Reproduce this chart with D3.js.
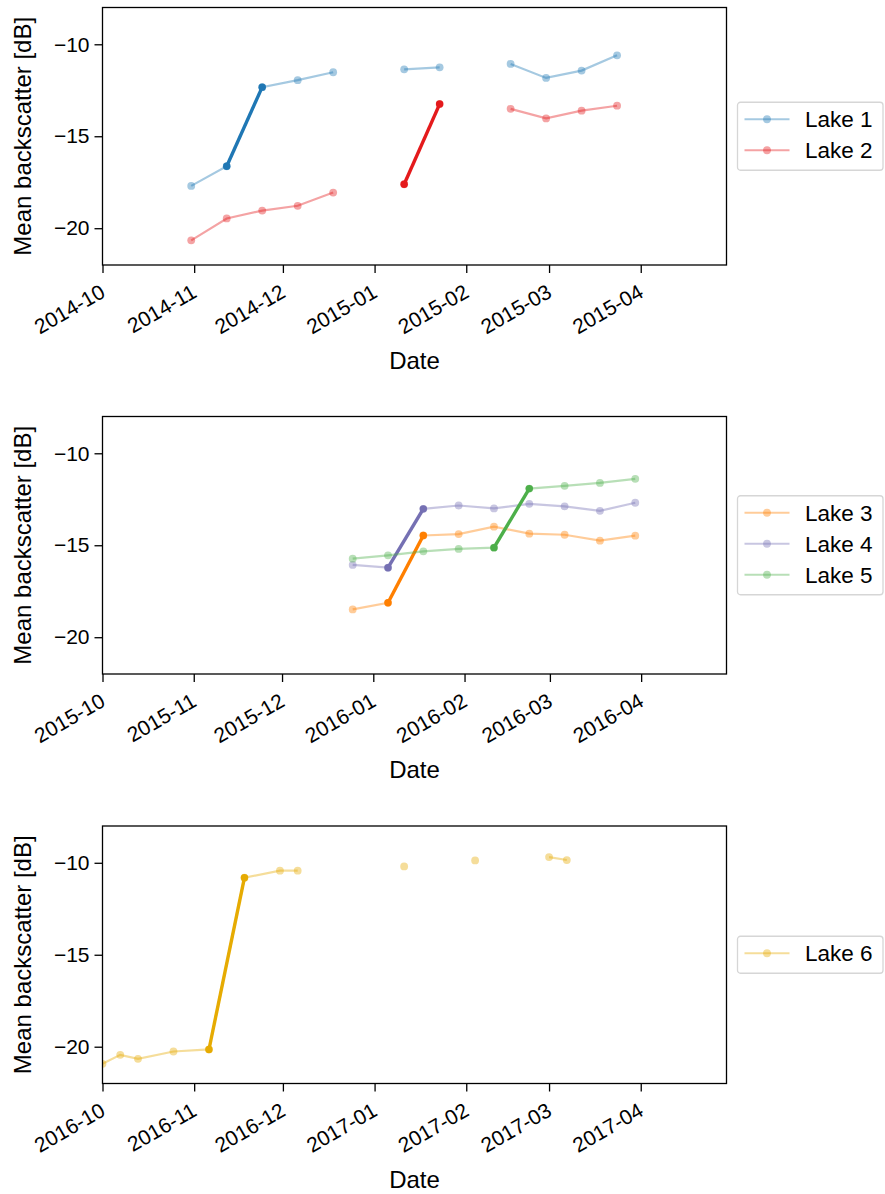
<!DOCTYPE html>
<html>
<head>
<meta charset="utf-8">
<script src="https://cdn.jsdelivr.net/npm/d3@7"></script>
<style>
  body { margin: 0; background: #fff; }
  svg { display: block; font-family: "Liberation Sans", Arial, sans-serif; }
</style>
</head>
<body>
<div id="chart"></div>
<script>
// ---- data ----
var dates1 = ["2014-10-31","2014-11-12","2014-11-24","2014-12-06","2014-12-18","2014-12-30",
              "2015-01-11","2015-01-23","2015-02-04","2015-02-16","2015-02-28","2015-03-12","2015-03-24"];
var lake1 = [-17.70,-16.63,-12.33,-11.95,-11.52,null,-11.36,-11.25,null,-11.07,-11.83,-11.43,-10.60];
var lake2 = [-20.66,-19.47,-19.04,-18.78,-18.06,null,-17.61,-13.25,null,-13.51,-14.03,-13.61,-13.34];

var dates2 = ["2015-12-25","2016-01-06","2016-01-18","2016-01-30","2016-02-11",
              "2016-02-23","2016-03-06","2016-03-18","2016-03-30"];
var lake3 = [-18.49,-18.13,-14.47,-14.39,-13.99,-14.37,-14.43,-14.75,-14.48];
var lake4 = [-16.07,-16.22,-13.02,-12.84,-13.00,-12.75,-12.89,-13.13,-12.69];
var lake5 = [-15.73,-15.55,-15.33,-15.20,-15.13,-11.92,-11.77,-11.61,-11.39];

var dates3 = ["2016-10-01","2016-10-07","2016-10-13","2016-10-25","2016-11-06","2016-11-18",
              "2016-11-30","2016-12-06","2016-12-18","2017-01-11","2017-01-23","2017-02-04",
              "2017-02-16","2017-03-01","2017-03-07"];
var lake6 = [-20.93,-20.44,-20.66,-20.26,-20.15,-10.81,-10.43,-10.43,null,-10.20,null,-9.87,null,-9.69,-9.85];

var lakeNames = ["Lake 1","Lake 2","Lake 3","Lake 4","Lake 5","Lake 6"];
var lakeColors = ["#1f77b4","#e41a1c","#ff7f00","#7570b3","#4daf4a","#e6ab02"];
// index of the first point of the highlighted (jump) segment per lake
var jumpStart = [1, 6, 1, 1, 4, 4];

var xDomains = [["2014-10-01","2015-04-30"],["2015-10-01","2016-04-30"],["2016-10-01","2017-04-30"]];
var yDomain = [-22, -8];
var yTicks = [-20, -15, -10];

var panels = [
  {dates: dates1, lakes: [0, 1], values: [lake1, lake2]},
  {dates: dates2, lakes: [2, 3, 4], values: [lake3, lake4, lake5]},
  {dates: dates3, lakes: [5], values: [lake6]}
];

// ---- layout ----
var W = 885, H = 1194;
var left = 102.5, right = 726.5;
var tops = [7.5, 416.5, 826];
var ph = 257.5;

var parse = d3.utcParse("%Y-%m-%d");
var fmt = d3.utcFormat("%Y-%m");

var svg = d3.select("#chart").append("svg")
  .attr("width", W).attr("height", H);

panels.forEach(function(p, pi) {
  var top = tops[pi], bottom = top + ph;

  var x = d3.scaleUtc()
    .domain(xDomains[pi].map(parse))
    .range([left, right]);
  var y = d3.scaleLinear()
    .domain(yDomain)
    .range([bottom, top]);

  svg.append("clipPath").attr("id", "clip" + pi)
    .append("rect")
    .attr("x", left).attr("y", top)
    .attr("width", right - left).attr("height", ph);

  var g = svg.append("g");
  var plot = g.append("g").attr("clip-path", "url(#clip" + pi + ")");

  var pts = function(vals) {
    return p.dates.map(function(d, i) { return {date: parse(d), v: vals[i]}; });
  };
  var line = d3.line()
    .defined(function(d) { return d.v != null; })
    .x(function(d) { return x(d.date); })
    .y(function(d) { return y(d.v); });

  p.lakes.forEach(function(li, k) {
    var data = pts(p.values[k]);
    var c = lakeColors[li];
    // faint full series
    plot.append("path")
      .datum(data)
      .attr("d", line)
      .attr("fill", "none")
      .attr("stroke", c)
      .attr("stroke-opacity", 0.4)
      .attr("stroke-width", 2.2);
    plot.selectAll(".dot" + li)
      .data(data.filter(function(d) { return d.v != null; }))
      .enter().append("circle")
      .attr("cx", function(d) { return x(d.date); })
      .attr("cy", function(d) { return y(d.v); })
      .attr("r", 3.9)
      .attr("fill", c)
      .attr("fill-opacity", 0.4);
    // the jump, drawn solid
    var seg = data.slice(jumpStart[li], jumpStart[li] + 2);
    plot.append("path")
      .datum(seg)
      .attr("d", line)
      .attr("fill", "none")
      .attr("stroke", c)
      .attr("stroke-width", 3.4);
    plot.selectAll(".jdot" + li)
      .data(seg)
      .enter().append("circle")
      .attr("cx", function(d) { return x(d.date); })
      .attr("cy", function(d) { return y(d.v); })
      .attr("r", 3.7)
      .attr("fill", c);
  });

  // frame
  g.append("rect")
    .attr("x", left).attr("y", top)
    .attr("width", right - left).attr("height", ph)
    .attr("fill", "none").attr("stroke", "#000").attr("stroke-width", 1.3);

  // x axis
  var xAxis = d3.axisBottom(x)
    .ticks(d3.utcMonth.every(1))
    .tickSize(8)
    .tickFormat(function() { return ""; });
  var gx = g.append("g")
    .attr("transform", "translate(0," + bottom + ")")
    .call(xAxis);
  gx.select(".domain").remove();
  gx.selectAll(".tick line").attr("stroke", "#000").attr("stroke-width", 1.3);
  gx.selectAll(".tick").append("text")
    .attr("transform", "translate(-4,18) rotate(-30)")
    .attr("text-anchor", "end")
    .attr("dy", "0.72em")
    .attr("fill", "#000")
    .style("font-size", "21px")
    .text(function(d) { return fmt(d); });

  // y axis
  var yAxis = d3.axisLeft(y)
    .tickValues(yTicks)
    .tickSize(8)
    .tickPadding(5);
  var gy = g.append("g")
    .attr("transform", "translate(" + left + ",0)")
    .call(yAxis);
  gy.select(".domain").remove();
  gy.selectAll(".tick line").attr("stroke", "#000").attr("stroke-width", 1.3);
  gy.selectAll(".tick text")
    .attr("fill", "#000")
    .style("font-size", "21px")
    .attr("font-family", null);

  // axis titles
  g.append("text")
    .attr("x", (left + right) / 2)
    .attr("y", bottom + 104)
    .attr("text-anchor", "middle")
    .style("font-size", "24px")
    .text("Date");
  g.append("text")
    .attr("transform", "translate(31," + (top + ph / 2) + ") rotate(-90)")
    .attr("text-anchor", "middle")
    .style("font-size", "24px")
    .text("Mean backscatter [dB]");

  // legend
  var n = p.lakes.length;
  var rowH = 31;
  var boxH = n * rowH + 6;
  var cy = top + ph / 2;
  var leg = g.append("g").attr("transform", "translate(737.5," + (cy - boxH / 2) + ")");
  leg.append("rect")
    .attr("width", 145.5).attr("height", boxH)
    .attr("rx", 3)
    .attr("fill", "#fff").attr("stroke", "#d6d6d6").attr("stroke-width", 1.3);
  p.lakes.forEach(function(li, k) {
    var ry = 17 + rowH * k;
    var c = lakeColors[li];
    leg.append("line")
      .attr("x1", 7).attr("x2", 52).attr("y1", ry).attr("y2", ry)
      .attr("stroke", c).attr("stroke-opacity", 0.4).attr("stroke-width", 2.2);
    leg.append("circle")
      .attr("cx", 29.5).attr("cy", ry).attr("r", 3.9)
      .attr("fill", c).attr("fill-opacity", 0.4);
    leg.append("text")
      .attr("x", 67.5).attr("y", ry)
      .attr("dy", "0.36em")
      .style("font-size", "22.5px")
      .text(lakeNames[li]);
  });
});
</script>
</body>
</html>
